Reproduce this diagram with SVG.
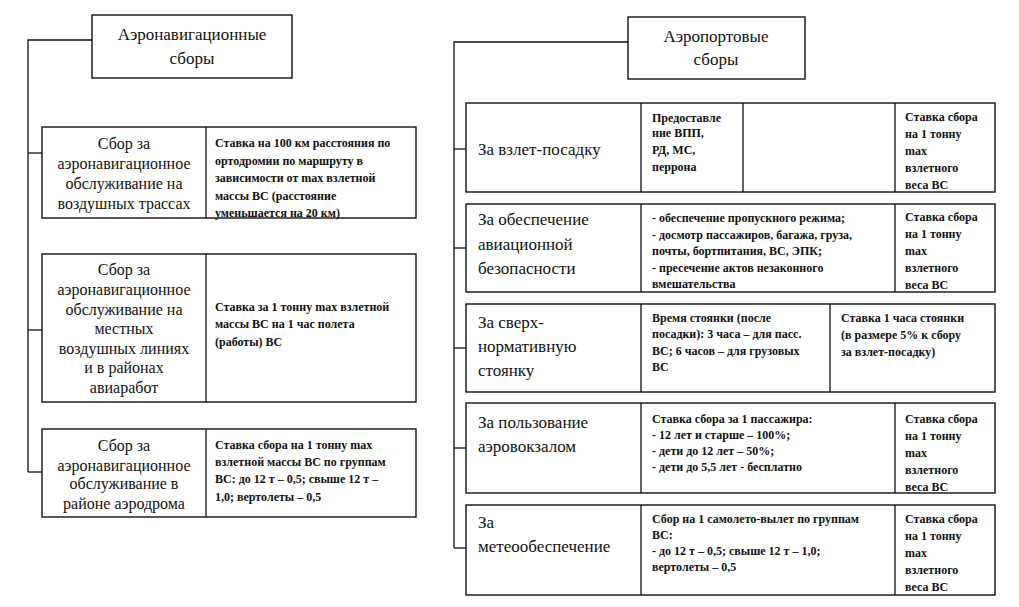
<svg xmlns="http://www.w3.org/2000/svg" width="1019" height="607" viewBox="0 0 1019 607" font-family="'Liberation Serif', 'Times New Roman', Times, serif">
<style>
.b{fill:#fff;stroke:#111;stroke-width:1.4}
.l{fill:none;stroke:#111;stroke-width:1.3}
text{fill:#111}
.h{font-size:17px;text-anchor:middle}
.m{font-size:16px;text-anchor:middle}
.r{font-size:17px}
.s{font-size:12px;font-weight:bold}
</style>
<rect width="1019" height="607" fill="#fff"/>
<g id="connectors">
<polyline class="l" points="92,40 28,40 28,472"/>
<line class="l" x1="28" y1="153" x2="42" y2="153"/>
<line class="l" x1="28" y1="330" x2="42" y2="330"/>
<line class="l" x1="28" y1="472" x2="42" y2="472"/>
<polyline class="l" points="628,42 454,42 454,548"/>
<line class="l" x1="454" y1="149" x2="466" y2="149"/>
<line class="l" x1="454" y1="248" x2="466" y2="248"/>
<line class="l" x1="454" y1="348" x2="466" y2="348"/>
<line class="l" x1="454" y1="448" x2="466" y2="448"/>
<line class="l" x1="454" y1="548" x2="466" y2="548"/>
</g>
<g id="hdr-left">
<rect class="b" x="92" y="15" width="200" height="63"/>
<text class="h" x="192" y="40">Аэронавигационные</text>
<text class="h" x="192" y="64">сборы</text>
</g>
<g id="hdr-right">
<rect class="b" x="628" y="17" width="177" height="62"/>
<text class="h" x="716" y="42">Аэропортовые</text>
<text class="h" x="716" y="65">сборы</text>
</g>
<g id="left1">
<rect class="b" x="42" y="127" width="374" height="91"/>
<line class="l" x1="206" y1="127" x2="206" y2="218"/>
<text class="m" x="124" y="149">Сбор за</text>
<text class="m" x="124" y="169">аэронавигационное</text>
<text class="m" x="124" y="189">обслуживание на</text>
<text class="m" x="124" y="209">воздушных трассах</text>
<text class="s" x="215" y="147">Ставка на 100 км расстояния по</text>
<text class="s" x="215" y="165">ортодромии по маршруту в</text>
<text class="s" x="215" y="182">зависимости от max взлетной</text>
<text class="s" x="215" y="200">массы ВС (расстояние</text>
<text class="s" x="215" y="217">уменьшается на 20 км)</text>
</g>
<g id="left2">
<rect class="b" x="42" y="254" width="374" height="148"/>
<line class="l" x1="206" y1="254" x2="206" y2="402"/>
<text class="m" x="124" y="275">Сбор за</text>
<text class="m" x="124" y="295">аэронавигационное</text>
<text class="m" x="124" y="315">обслуживание на</text>
<text class="m" x="124" y="334">местных</text>
<text class="m" x="124" y="354">воздушных линиях</text>
<text class="m" x="124" y="373">и в районах</text>
<text class="m" x="124" y="393">авиаработ</text>
<text class="s" x="215" y="311">Ставка за 1 тонну max взлетной</text>
<text class="s" x="215" y="328">массы ВС на 1 час полета</text>
<text class="s" x="215" y="346">(работы) ВС</text>
</g>
<g id="left3">
<rect class="b" x="42" y="429" width="374" height="88"/>
<line class="l" x1="206" y1="429" x2="206" y2="517"/>
<text class="m" x="124" y="451">Сбор за</text>
<text class="m" x="124" y="471">аэронавигационное</text>
<text class="m" x="124" y="489">обслуживание в</text>
<text class="m" x="124" y="509">районе аэродрома</text>
<text class="s" x="215" y="449">Ставка сбора на 1 тонну max</text>
<text class="s" x="215" y="466">взлетной массы ВС по группам</text>
<text class="s" x="215" y="483">ВС: до 12 т – 0,5; свыше 12 т –</text>
<text class="s" x="215" y="501">1,0; вертолеты – 0,5</text>
</g>
<g id="right1">
<rect class="b" x="466" y="103" width="529" height="89"/>
<line class="l" x1="641" y1="103" x2="641" y2="192"/>
<line class="l" x1="743" y1="103" x2="743" y2="192"/>
<line class="l" x1="895" y1="103" x2="895" y2="192"/>
<text class="r" x="478" y="155">За взлет-посадку</text>
<text class="s" x="652" y="122">Предоставле</text>
<text class="s" x="652" y="137">ние ВПП,</text>
<text class="s" x="652" y="154">РД, МС,</text>
<text class="s" x="652" y="171">перрона</text>
<text class="s" x="905" y="121">Ставка сбора</text>
<text class="s" x="905" y="138">на 1 тонну</text>
<text class="s" x="905" y="155">max</text>
<text class="s" x="905" y="172">взлетного</text>
<text class="s" x="905" y="189">веса ВС</text>
</g>
<g id="right2">
<rect class="b" x="466" y="204" width="529" height="88"/>
<line class="l" x1="641" y1="204" x2="641" y2="292"/>
<line class="l" x1="895" y1="204" x2="895" y2="292"/>
<text class="r" x="478" y="225">За обеспечение</text>
<text class="r" x="478" y="250">авиационной</text>
<text class="r" x="478" y="274">безопасности</text>
<text class="s" x="652" y="222">- обеспечение пропускного режима;</text>
<text class="s" x="652" y="239">- досмотр пассажиров, багажа, груза,</text>
<text class="s" x="652" y="255">почты, бортпитания, ВС, ЭПК;</text>
<text class="s" x="652" y="272">- пресечение актов незаконного</text>
<text class="s" x="652" y="288">вмешательства</text>
<text class="s" x="905" y="221">Ставка сбора</text>
<text class="s" x="905" y="238">на 1 тонну</text>
<text class="s" x="905" y="255">max</text>
<text class="s" x="905" y="272">взлетного</text>
<text class="s" x="905" y="289">веса ВС</text>
</g>
<g id="right3">
<rect class="b" x="466" y="304" width="529" height="88"/>
<line class="l" x1="641" y1="304" x2="641" y2="392"/>
<line class="l" x1="830" y1="304" x2="830" y2="392"/>
<text class="r" x="478" y="328">За сверх-</text>
<text class="r" x="478" y="352">нормативную</text>
<text class="r" x="478" y="376">стоянку</text>
<text class="s" x="652" y="322">Время стоянки (после</text>
<text class="s" x="652" y="338">посадки): 3 часа – для пасс.</text>
<text class="s" x="652" y="355">ВС; 6 часов – для грузовых</text>
<text class="s" x="652" y="371">ВС</text>
<text class="s" x="841" y="322">Ставка 1 часа стоянки</text>
<text class="s" x="841" y="339">(в размере 5% к сбору</text>
<text class="s" x="841" y="356">за взлет-посадку)</text>
</g>
<g id="right4">
<rect class="b" x="466" y="403" width="529" height="90"/>
<line class="l" x1="641" y1="403" x2="641" y2="493"/>
<line class="l" x1="895" y1="403" x2="895" y2="493"/>
<text class="r" x="478" y="428">За пользование</text>
<text class="r" x="478" y="452">аэровокзалом</text>
<text class="s" x="652" y="423">Ставка сбора за 1 пассажира:</text>
<text class="s" x="652" y="439">- 12 лет и старше – 100%;</text>
<text class="s" x="652" y="455">- дети до 12 лет – 50%;</text>
<text class="s" x="652" y="471">- дети до 5,5 лет - бесплатно</text>
<text class="s" x="905" y="423">Ставка сбора</text>
<text class="s" x="905" y="440">на 1 тонну</text>
<text class="s" x="905" y="457">max</text>
<text class="s" x="905" y="474">взлетного</text>
<text class="s" x="905" y="491">веса ВС</text>
</g>
<g id="right5">
<rect class="b" x="466" y="505" width="529" height="90"/>
<line class="l" x1="641" y1="505" x2="641" y2="595"/>
<line class="l" x1="895" y1="505" x2="895" y2="595"/>
<text class="r" x="478" y="528">За</text>
<text class="r" x="478" y="552">метеообеспечение</text>
<text class="s" x="652" y="523">Сбор на 1 самолето-вылет по группам</text>
<text class="s" x="652" y="539">ВС:</text>
<text class="s" x="652" y="555">- до 12 т – 0,5; свыше 12 т – 1,0;</text>
<text class="s" x="652" y="571">вертолеты – 0,5</text>
<text class="s" x="905" y="523">Ставка сбора</text>
<text class="s" x="905" y="540">на 1 тонну</text>
<text class="s" x="905" y="557">max</text>
<text class="s" x="905" y="574">взлетного</text>
<text class="s" x="905" y="591">веса ВС</text>
</g>
</svg>
